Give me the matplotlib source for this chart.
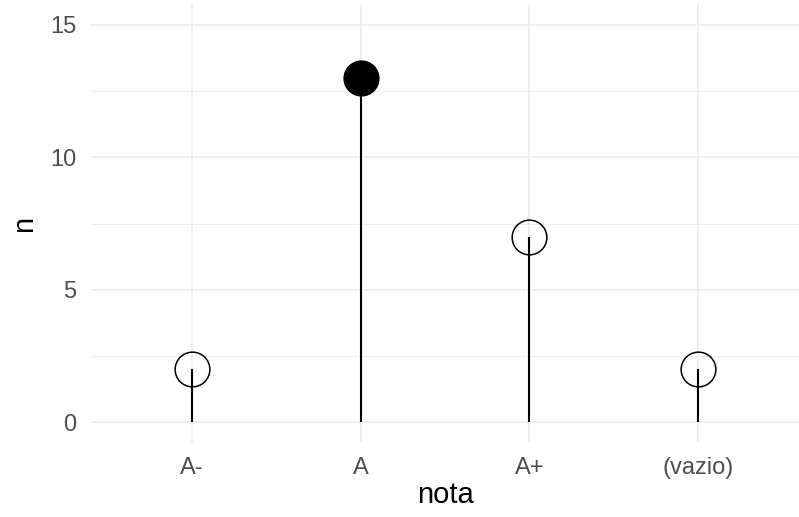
import matplotlib
matplotlib.use("Agg")
import matplotlib.pyplot as plt
from matplotlib.ticker import MultipleLocator

plt.rcParams['font.family'] = ['Liberation Sans', 'DejaVu Sans']

note = ['A-', 'A', 'A+', '(vazio)']
conteggi = [2, 13, 7, 2]
massimo = [False, True, False, False]


def main():
    fig = plt.figure(figsize=(7.99, 5.17), dpi=100)
    ax = fig.add_axes([91 / 799, 1 - 442 / 517, 708 / 799, 437 / 517])

    xs = list(range(len(note)))

    # griglia stile theme_minimal
    ax.set_axisbelow(True)
    ax.yaxis.set_major_locator(MultipleLocator(5))
    ax.yaxis.set_minor_locator(MultipleLocator(2.5))
    ax.grid(True, which='major', color='#EBEBEB', linewidth=1.1)
    ax.grid(True, which='minor', axis='y', color='#EBEBEB', linewidth=0.6)

    ax.vlines(xs, 0, conteggi, color='black', linewidth=1.5, zorder=3)
    for x, v, pieno in zip(xs, conteggi, massimo):
        ax.plot(x, v, 'o', markersize=25,
                markerfacecolor='black' if pieno else 'none',
                markeredgecolor='black', markeredgewidth=1.1, zorder=4)

    ax.set_xlim(-0.6, 3.6)
    ax.set_ylim(-0.75, 15.75)
    ax.set_xticks(xs)
    ax.set_xticklabels(note)

    for s in ax.spines.values():
        s.set_visible(False)
    ax.tick_params(axis='both', which='both', length=0, labelsize=17,
                   labelcolor='#4D4D4D')
    ax.tick_params(axis='y', pad=10.5)
    ax.tick_params(axis='x', pad=10.5)

    ax.set_xlabel('nota', fontsize=21, labelpad=2)
    ax.set_ylabel('n', fontsize=21, labelpad=9)

    fig.savefig('out.png', dpi=100)


if __name__ == "__main__":
    main()
